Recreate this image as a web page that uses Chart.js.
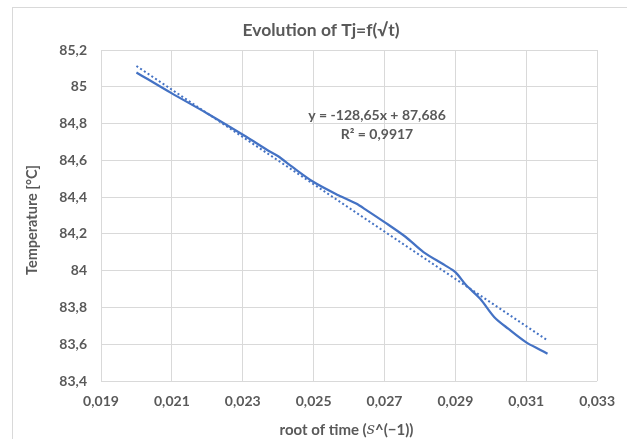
<!DOCTYPE html>
<html>
<head>
<meta charset="utf-8">
<script src="https://cdn.jsdelivr.net/npm/chart.js@4/dist/chart.umd.min.js"></script>
<style>
  html, body { margin: 0; padding: 0; background: #fff; }
  #wrap { width: 627px; height: 439px; position: relative; }
</style>
</head>
<body>
<div id="wrap"><canvas id="tjChart" width="627" height="439"></canvas></div>
<script>
// Data
const rootTime = [0.0200, 0.0210, 0.0220, 0.0231, 0.0237, 0.0240, 0.0244, 0.0250, 0.0257, 0.0262,
  0.0265, 0.0270, 0.0276, 0.0281, 0.0287, 0.0290, 0.0293, 0.0297, 0.0301, 0.0305, 0.0310, 0.0314, 0.0316];
const temperature = [85.078, 84.964, 84.855, 84.728, 84.655, 84.622, 84.564, 84.482, 84.410, 84.365,
  84.328, 84.264, 84.183, 84.101, 84.030, 83.992, 83.922, 83.847, 83.747, 83.683, 83.610, 83.569, 83.548];

// Linear trendline end points (y = -128,65x + 87,686)
const trendX = [0.0200, 0.0316];
const trendY = [85.113, 83.621];

const xTicks = [0.019, 0.021, 0.023, 0.025, 0.027, 0.029, 0.031, 0.033];
const yTicks = [83.4, 83.6, 83.8, 84, 84.2, 84.4, 84.6, 84.8, 85, 85.2];

const chartTitle = "Evolution of Tj=f(√t)";
const yTitle = "Temperature [°C]";
const equation = ["y = -128,65x + 87,686", "R² = 0,9917"];

const blue = "#4472c4";
const grey = "#595959";
const gridGrey = "#d9d9d9";
const fontFam = "Lato, 'Open Sans', sans-serif";

Chart.defaults.font.family = fontFam;
Chart.defaults.color = grey;

// Frame, titles and the trendline equation
const decor = {
  id: "decor",
  beforeDraw(chart) {
    const c = chart.ctx;
    c.save();
    c.strokeStyle = gridGrey;
    c.lineWidth = 1;
    c.strokeRect(12.5, 7.5, 800, 600);
    c.restore();
  },
  afterDraw(chart) {
    const c = chart.ctx;
    const area = chart.chartArea;
    c.save();
    c.fillStyle = grey;
    c.textBaseline = "middle";
    c.textAlign = "center";

    c.font = "bold 17.5px " + fontFam;
    c.fillText(chartTitle, 321, 30);

    c.font = "bold 14px " + fontFam;
    c.fillText(equation[0], 377, 115);
    c.fillText(equation[1], 377, 134);

    // y axis title
    c.save();
    c.translate(32.5, 220);
    c.rotate(-Math.PI / 2);
    c.font = "bold 14.5px " + fontFam;
    c.fillText(yTitle, 0, 0);
    c.restore();

    // x axis title with italic s
    const parts = [
      { t: "root of time (", f: "bold 15px " + fontFam },
      { t: "s", f: "italic 16px 'DejaVu Serif', serif" },
      { t: "^(−1))", f: "bold 15px " + fontFam }
    ];
    let total = 0;
    parts.forEach(p => { c.font = p.f; p.w = c.measureText(p.t).width; total += p.w; });
    let x = 346.5 - total / 2;
    c.textAlign = "left";
    parts.forEach(p => { c.font = p.f; c.fillText(p.t, x, 430); x += p.w; });
    c.restore();
  }
};

const fmt = (v, d) => Number(v.toFixed(d)).toString().replace(".", ",");

new Chart(document.getElementById("tjChart"), {
  type: "scatter",
  data: {
    datasets: [
      {
        label: "Tj",
        data: rootTime.map((x, i) => ({ x: x, y: temperature[i] })),
        showLine: true,
        borderColor: blue,
        backgroundColor: blue,
        borderWidth: 2.25,
        pointRadius: 0,
        tension: 0.3
      },
      {
        label: "Linear",
        data: trendX.map((x, i) => ({ x: x, y: trendY[i] })),
        showLine: true,
        borderColor: blue,
        borderWidth: 2,
        borderDash: [2, 2.5],
        pointRadius: 0
      }
    ]
  },
  options: {
    responsive: false,
    animation: false,
    layout: { padding: { left: 12, right: 25, top: 50, bottom: 0 } },
    plugins: {
      legend: { display: false },
      title: { display: false },
      tooltip: { enabled: false }
    },
    scales: {
      x: {
        type: "linear",
        min: 0.019,
        max: 0.033,
        afterBuildTicks: s => { s.ticks = xTicks.map(v => ({ value: v })); },
        afterFit: s => { s.height = 58; },
        ticks: {
          padding: 12,
          font: { size: 14, weight: "bold" },
          color: grey,
          maxRotation: 0,
          autoSkip: false,
          callback: v => fmt(v, 3)
        },
        grid: { color: gridGrey, lineWidth: 1, drawTicks: false },
        border: { display: false }
      },
      y: {
        min: 83.4,
        max: 85.2,
        afterBuildTicks: s => { s.ticks = yTicks.map(v => ({ value: v })); },
        afterFit: s => { s.width = 89; },
        ticks: {
          padding: 14,
          font: { size: 14, weight: "bold" },
          color: grey,
          autoSkip: false,
          callback: v => fmt(v, 1)
        },
        grid: { color: gridGrey, lineWidth: 1, drawTicks: false },
        border: { display: false }
      }
    }
  },
  plugins: [decor]
});
</script>
</body>
</html>
